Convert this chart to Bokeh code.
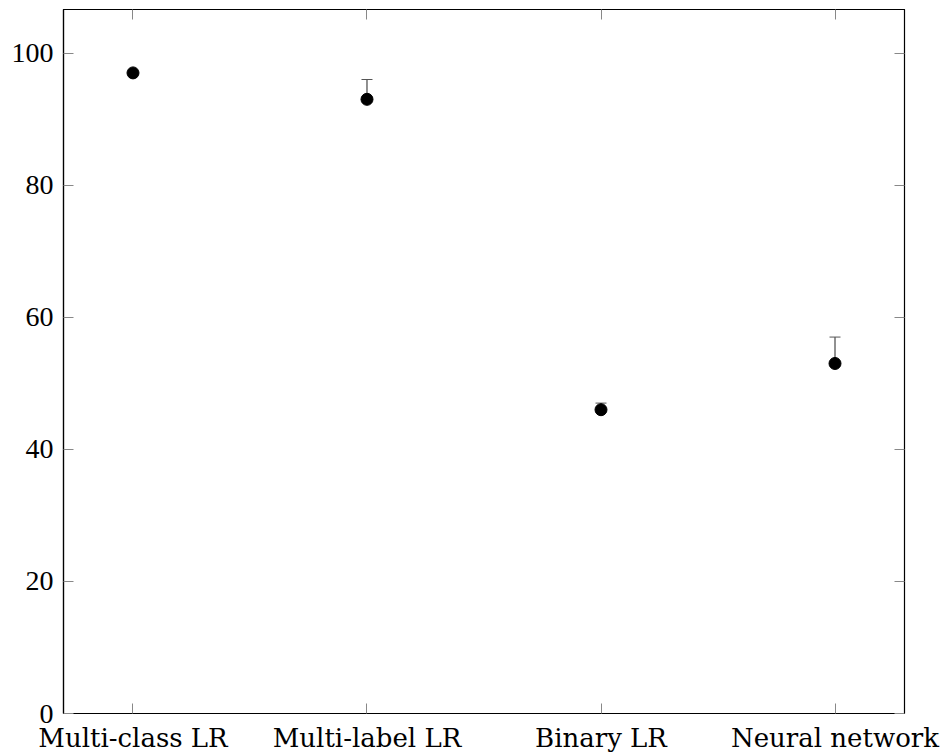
from bokeh.plotting import figure
from bokeh.models import (ColumnDataSource, FixedTicker, LinearAxis, Range1d,
                          Whisker, TeeHead)
from bokeh.embed import file_html
from bokeh.resources import INLINE

categories = ["Multi-class LR", "Multi-label LR", "Binary LR", "Neural network"]
values = [97, 93, 46, 53]
upper_errors = [0, 3, 1, 4]
y_ticks = [0, 20, 40, 60, 80, 100]

xs = list(range(len(categories)))
src = ColumnDataSource(dict(x=xs, y=values))
err_idx = [i for i, e in enumerate(upper_errors) if e > 0]
err_src = ColumnDataSource(dict(
    x=[xs[i] for i in err_idx],
    lower=[values[i] for i in err_idx],
    upper=[values[i] + upper_errors[i] for i in err_idx],
))

p = figure(width=941, height=755, output_backend="svg", toolbar_location=None,
           x_range=Range1d(-0.297, len(categories) - 1 + 0.297),
           y_range=Range1d(0, 106.6))
p.min_border_left = 63
p.min_border_right = 37
p.min_border_top = 9
p.min_border_bottom = 38
p.xgrid.visible = False
p.ygrid.visible = False
p.outline_line_color = "black"
p.outline_line_width = 1.2
p.background_fill_color = "white"
p.border_fill_color = "white"

FONT_NUM = "Liberation Serif"
FONT_CAT = "DejaVu Serif"

xa = p.xaxis[0]
xa.ticker = FixedTicker(ticks=xs)
xa.major_label_overrides = {i: c for i, c in zip(xs, categories)}
xa.major_label_text_font = FONT_CAT
xa.major_label_text_font_size = "26px"
xa.major_label_text_color = "black"
xa.major_label_standoff = 9
xa.major_tick_in = 10
xa.major_tick_out = 0
xa.minor_tick_line_color = None
xa.major_tick_line_color = "#888888"
xa.axis_line_color = "black"
xa.axis_line_width = 1.2

ya = p.yaxis[0]
ya.ticker = FixedTicker(ticks=y_ticks)
ya.major_label_text_font = FONT_NUM
ya.major_label_text_font_size = "28px"
ya.major_label_text_color = "black"
ya.major_label_standoff = 10
ya.major_tick_in = 10
ya.major_tick_out = 0
ya.minor_tick_line_color = None
ya.major_tick_line_color = "#888888"
ya.axis_line_color = "black"
ya.axis_line_width = 1.2

top = LinearAxis(ticker=FixedTicker(ticks=xs),
                 major_label_overrides={i: "" for i in xs},
                 major_tick_in=10, major_tick_out=0, minor_tick_line_color=None,
                 major_tick_line_color="#888888", axis_line_color="black",
                 major_label_standoff=0)
p.add_layout(top, "above")
right = LinearAxis(ticker=FixedTicker(ticks=y_ticks),
                   major_label_overrides={t: "" for t in y_ticks},
                   major_tick_in=10, major_tick_out=0, minor_tick_line_color=None,
                   major_tick_line_color="#888888", axis_line_color="black",
                   major_label_standoff=0)
p.add_layout(right, "right")

w = Whisker(source=err_src, base="x", lower="lower", upper="upper",
            lower_head=None,
            upper_head=TeeHead(size=11, line_color="#555555", line_width=1),
            line_color="#222222", line_width=1)
p.add_layout(w)

p.scatter("x", "y", source=src, size=12, color="black")

open("out.html", "w").write(file_html(p, INLINE))
